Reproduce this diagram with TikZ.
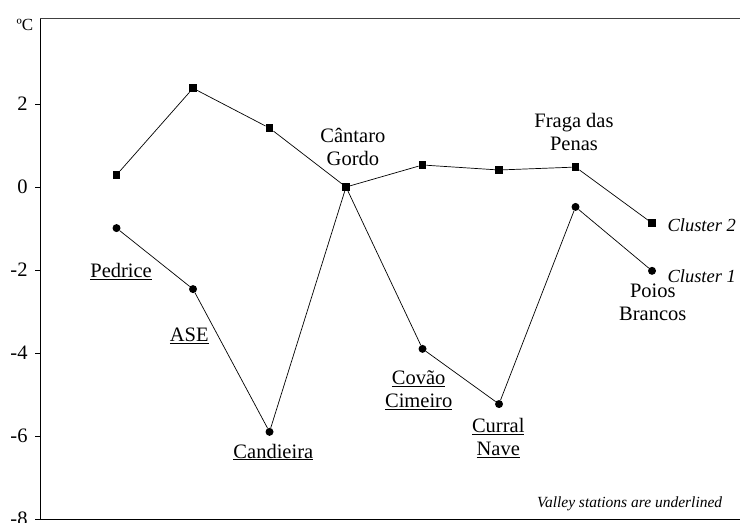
\documentclass[tikz,border=0pt]{standalone}
\usepackage{fontspec}
\setmainfont{Liberation Serif}

\begin{document}
\begin{tikzpicture}[x=76.5pt, y=41.5pt,
  sqmark/.style={rectangle, fill=black, inner sep=0pt, minimum size=7.5pt},
  dotmark/.style={circle, fill=black, inner sep=0pt, minimum size=8pt},
  series/.style={line width=0.7pt},
  lbl/.style={font=\fontsize{20.5}{23}\selectfont, align=center, inner sep=0pt},
  tag/.style={font=\fontsize{18.5}{22}\selectfont\itshape, inner sep=0pt, anchor=base west}]
\useasboundingbox (-0.523,-8.096) rectangle (9.150,4.506);
\draw[line width=0.9pt, black!75] (0,4.05) -- (9.15,4.05);
\draw[line width=1pt] (0,4.05) -- (0,-8) -- (9.15,-8);
\foreach \v in {2,0,-2,-4,-6,-8}
  \draw[line width=0.9pt] ([xshift=-5pt]0,\v) -- (0,\v) node[lbl, anchor=east, xshift=-12pt] (tick\v) {\v};
\node[font=\fontsize{17}{20}\selectfont, inner sep=0pt, anchor=base] (unit) at (-0.196,3.78) {ºC};
\node[sqmark] (s1) at (1,0.29) {};
\node[sqmark] (s2) at (2,2.38) {};
\node[sqmark] (s3) at (3,1.42) {};
\node[sqmark] (s4) at (4,0) {};
\node[sqmark] (s5) at (5,0.53) {};
\node[sqmark] (s6) at (6,0.41) {};
\node[sqmark] (s7) at (7,0.48) {};
\node[sqmark] (s8) at (8,-0.87) {};
\node[dotmark] (c1) at (1,-0.99) {};
\node[dotmark] (c2) at (2,-2.46) {};
\node[dotmark] (c3) at (3,-5.9) {};
\node[dotmark] (c5) at (5,-3.9) {};
\node[dotmark] (c6) at (6,-5.23) {};
\node[dotmark] (c7) at (7,-0.48) {};
\node[dotmark] (c8) at (8,-2.02) {};
\draw[series] (s1) -- (s2) -- (s3) -- (s4) -- (s5) -- (s6) -- (s7) -- (s8);
\draw[series] (c1) -- (c2) -- (c3) -- (s4) -- (c5) -- (c6) -- (c7) -- (c8);
\node[lbl, anchor=base] (pedrice) at (1.06,-2.19) {\underline{Pedrice}};
\node[lbl, anchor=base] (ase) at (1.95,-3.73) {\underline{ASE}};
\node[lbl, anchor=base] (candieira) at (3.05,-6.53) {\underline{Candieira}};
\node[lbl, anchor=base] (cantaro) at (4.09,0.53) {Cântaro\\Gordo};
\node[lbl, anchor=base] (covao) at (4.95,-5.32) {\underline{Covão}\\\underline{Cimeiro}};
\node[lbl, anchor=base] (curral) at (5.99,-6.48) {\underline{Curral}\\\underline{Nave}};
\node[lbl, anchor=base] (fraga) at (6.98,0.87) {Fraga das\\Penas};
\node[lbl, anchor=base] (poios) at (8.01,-3.22) {Poios\\Brancos};
\node[tag] (cluster2) at (8.2,-1.08) {Cluster 2};
\node[tag] (cluster1) at (8.2,-2.29) {Cluster 1};
\node[font=\fontsize{15.5}{18}\selectfont\itshape, inner sep=0pt, anchor=base east] (note) at (8.92,-7.73) {Valley stations are underlined};
\end{tikzpicture}
\end{document}
